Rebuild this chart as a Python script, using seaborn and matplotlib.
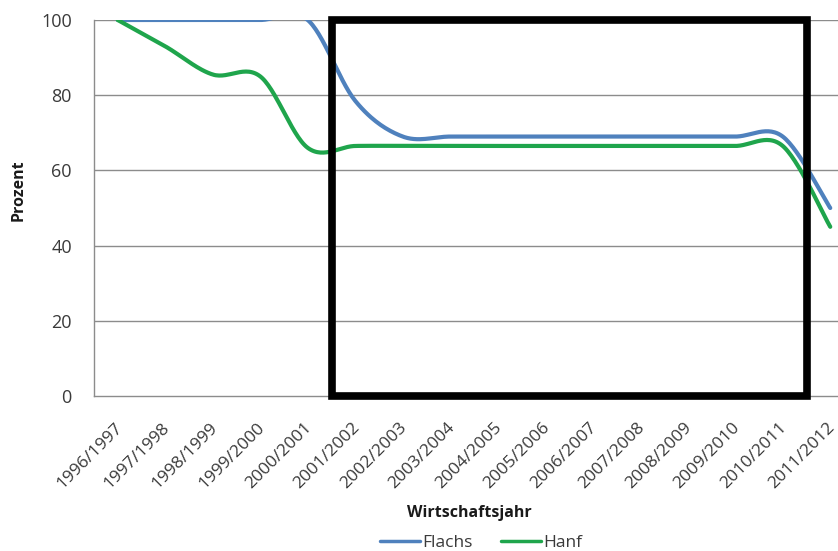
import numpy as np
import pandas as pd
import matplotlib
matplotlib.use("Agg")
import matplotlib.pyplot as plt
import matplotlib.transforms as mtransforms
import seaborn as sns
from matplotlib.patches import Rectangle
from matplotlib.lines import Line2D

# Wirtschaftsjahre (Kategorien der x-Achse)
seasons = ["1996/1997", "1997/1998", "1998/1999", "1999/2000", "2000/2001",
           "2001/2002", "2002/2003", "2003/2004", "2004/2005", "2005/2006",
           "2006/2007", "2007/2008", "2008/2009", "2009/2010", "2010/2011",
           "2011/2012"]

# Anteile in Prozent
flachs = [100, 100, 100, 100, 100, 78.5, 69, 69, 69, 69, 69, 69, 69, 69, 69, 50]
hanf = [100, 93, 85.5, 85, 66, 66.5, 66.5, 66.5, 66.5, 66.5, 66.5, 66.5, 66.5,
        66.5, 66.5, 45]

y_ticks = [0, 20, 40, 60, 80, 100]

series_names = ["Flachs", "Hanf"]
series_colors = {"Flachs": "#4F81BD", "Hanf": "#1FA54C"}

# hervorgehobener Zeitraum (2001/2002 bis 2010/2011)
highlight_first, highlight_last = 5, 14


def smooth(values, steps=30):
    """Geglaettete Linie: kubische Bezier-Segmente wie in Tabellenkalkulationen."""
    p = np.asarray(values, dtype=float)
    pts = np.column_stack([np.arange(len(p), dtype=float), p])
    ext = np.vstack([pts[0], pts, pts[-1]])
    t = np.linspace(0, 1, steps, endpoint=False)[:, None]
    out = []
    for i in range(len(pts) - 1):
        p0, p3 = ext[i + 1], ext[i + 2]
        c1 = p0 + (ext[i + 2] - ext[i]) / 6.0
        c2 = p3 - (ext[i + 3] - ext[i + 1]) / 6.0
        out.append((1 - t) ** 3 * p0 + 3 * (1 - t) ** 2 * t * c1
                   + 3 * (1 - t) * t ** 2 * c2 + t ** 3 * p3)
    out.append(pts[-1:])
    return np.vstack(out)


frames = []
for name, vals in zip(series_names, [flachs, hanf]):
    curve = smooth(vals)
    frames.append(pd.DataFrame({"x": curve[:, 0], "y": curve[:, 1], "Serie": name}))
df = pd.concat(frames, ignore_index=True)

sns.set_theme(style="white")
plt.rcParams["font.family"] = ["Open Sans", "DejaVu Sans"]

W, H = 838, 551
fig = plt.figure(figsize=(W / 100, H / 100), dpi=100)
ax = fig.add_axes([94 / W, (H - 396) / H, 760 / W, 376 / H])

sns.lineplot(data=df, x="x", y="y", hue="Serie", palette=series_colors,
             estimator=None, sort=False, linewidth=3.0, ax=ax, legend=False,
             zorder=3)

grid_c = "#8C8C8C"
text_c = "#3A3A3A"

ax.set_xlim(-0.5, len(seasons) - 0.5)
ax.set_ylim(0, 100)

# horizontale Gitterlinien
for v in y_ticks[1:]:
    ax.axhline(v, color=grid_c, lw=1.0, zorder=1)

ax.set_yticks(y_ticks)
ax.set_yticklabels([str(v) for v in y_ticks], color=text_c, fontsize=13)
ax.set_xticks(np.arange(len(seasons)))
ax.set_xticklabels(seasons, rotation=45, ha="right", va="center",
                   rotation_mode="anchor", color=text_c, fontsize=12.5)
ax.set_xticks(np.arange(len(seasons) + 1) - 0.5, minor=True)
ax.tick_params(axis="x", which="major", length=0, pad=21)
ax.tick_params(axis="x", which="minor", length=6, width=1, color=grid_c,
               direction="out")
ax.tick_params(axis="y", length=7, width=1, color=grid_c, direction="out", pad=9)

# Kategorienbeschriftungen leicht nach rechts versetzt
shift = mtransforms.ScaledTranslation(2 / 100, 0, fig.dpi_scale_trans)
for lbl in ax.get_xticklabels():
    lbl.set_transform(lbl.get_transform() + shift)

for side in ["top", "right"]:
    ax.spines[side].set_visible(False)
for side in ["left", "bottom"]:
    ax.spines[side].set_color(grid_c)
    ax.spines[side].set_linewidth(1.0)

ax.set_xlabel("")
ax.set_ylabel("")

# Rahmen um den hervorgehobenen Zeitraum
ax.add_patch(Rectangle((highlight_first - 0.5, 0),
                       highlight_last - highlight_first + 1, 100,
                       fill=False, edgecolor="black", linewidth=5.5,
                       joinstyle="miter", zorder=5, clip_on=False))

fig.text(469 / W, 1 - 513 / H, "Wirtschaftsjahr", ha="center", va="center",
         fontsize=11.5, fontweight="bold", color="#1A1A1A")
fig.text(19 / W, 1 - 190 / H, "Prozent", ha="center", va="center",
         rotation=90, fontsize=11.5, fontweight="bold", color="#1A1A1A")

handles = [Line2D([0], [0], color=series_colors[n], lw=2.5) for n in series_names]
fig.legend(handles, series_names, loc="center", ncol=2,
           bbox_to_anchor=(481 / W, 1 - 543 / H), frameon=False, fontsize=12.5,
           handlelength=2.3, handletextpad=0.15, columnspacing=1.6,
           labelcolor=text_c)

fig.savefig("out.png", dpi=100)
